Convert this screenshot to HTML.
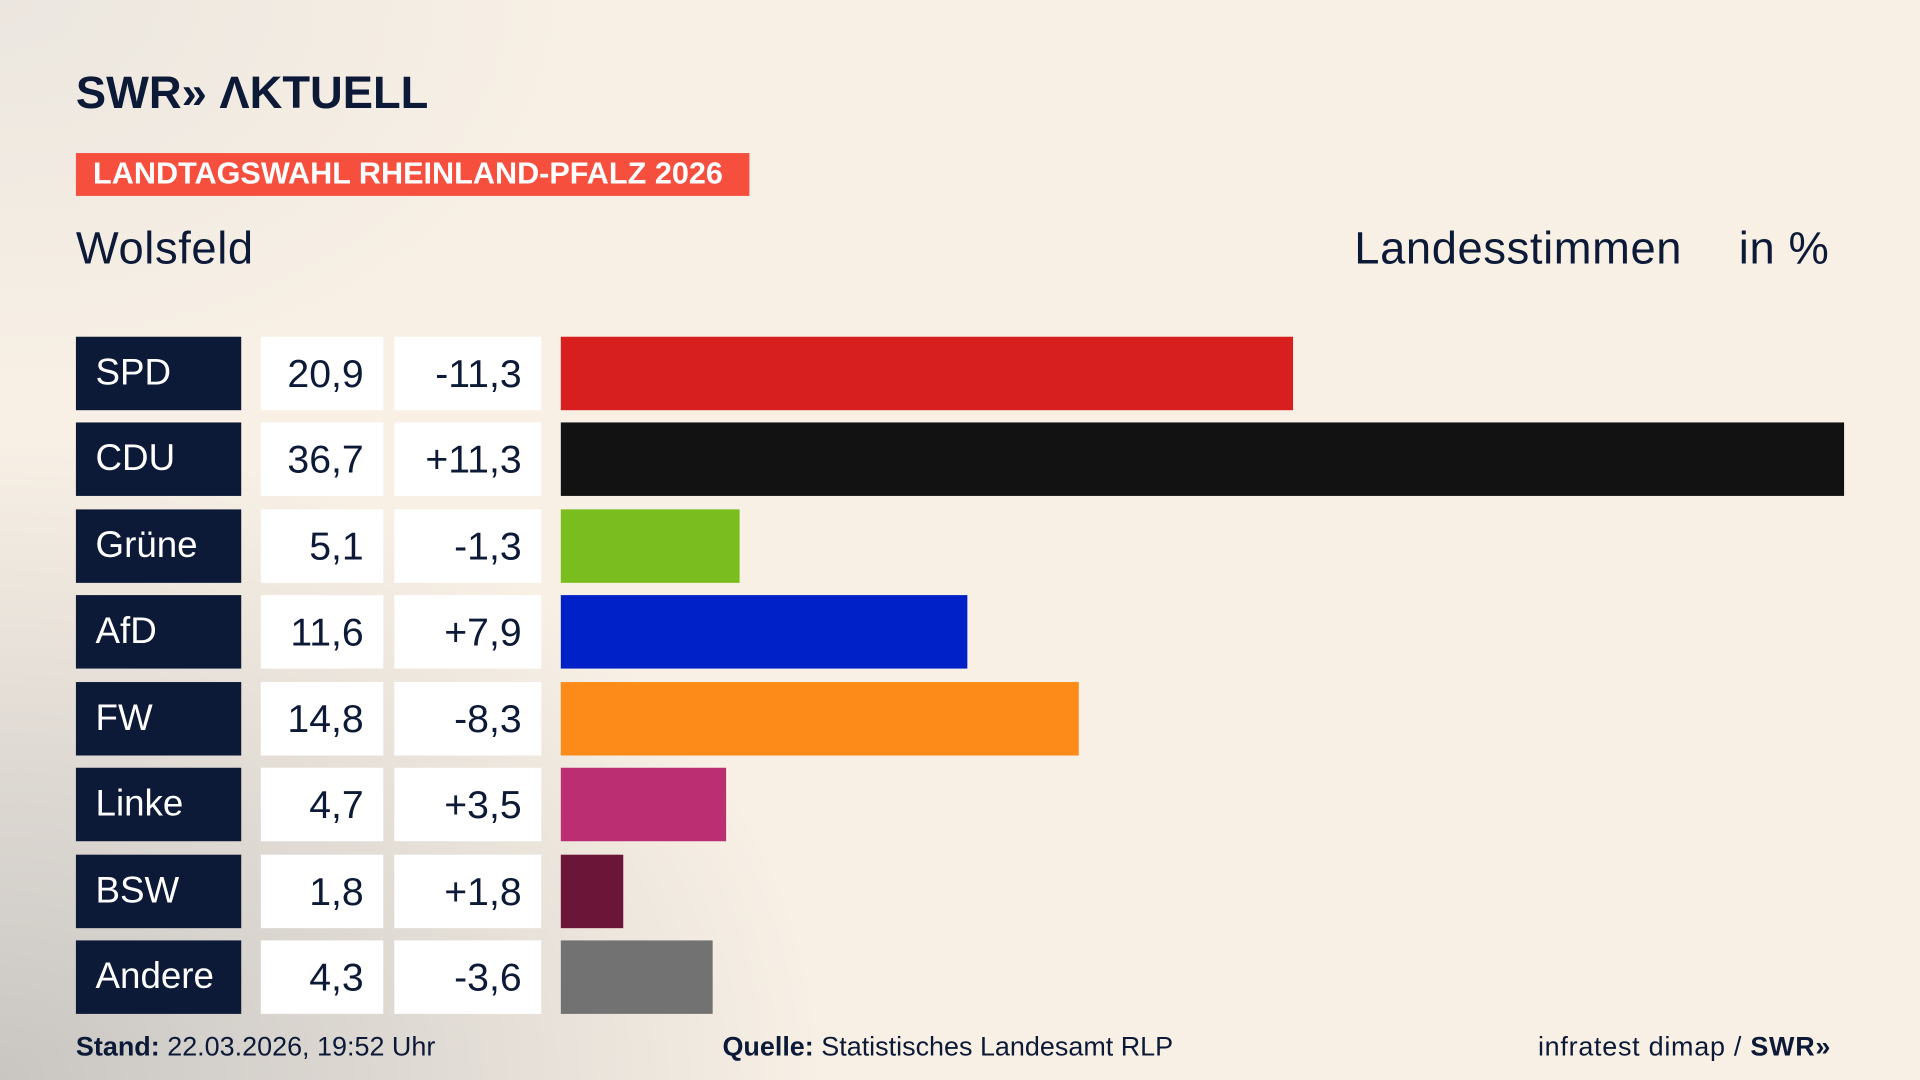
<!DOCTYPE html>
<html><head><meta charset="utf-8"><style>
html,body{margin:0;padding:0;width:1920px;height:1080px;overflow:hidden}
body{background:#f7efe5}
#w{position:absolute;left:0;top:0;width:1568px;height:882px;transform:scale(1.22449);transform-origin:0 0;
background:radial-gradient(ellipse 900px 700px at 0% 100%,#c9c6c2 0%,#ddd8d2 35%,rgba(247,239,229,0) 75%),
radial-gradient(ellipse 600px 400px at 0% 0%,#ebe6df 0%,rgba(247,239,229,0) 80%),#f8f0e5;
font-family:"Liberation Sans",sans-serif;color:#0c1a38}
.a{position:absolute}
.logo{left:62px;top:55px;font-size:37px;font-weight:bold;letter-spacing:0px;white-space:nowrap}
.ban{left:62px;top:125px;width:550px;height:35px;background:#f64f3e;color:#fff;font-weight:bold;font-size:25px;line-height:35px;text-indent:14px;white-space:nowrap}
.t{font-size:37px;top:182px;letter-spacing:.5px}
.lab{left:62px;width:135px;height:60px;background:#0c1a38;color:#fff;font-size:30px;line-height:60px;text-indent:16px}
.v{left:213px;width:100px;height:60px;background:#fff;font-size:32px;line-height:60px;text-align:right;box-sizing:border-box;padding-right:16px}
.d{left:322px;width:120px;height:60px;background:#fff;font-size:32px;line-height:60px;text-align:right;box-sizing:border-box;padding-right:16px}
.b{left:458px;height:60px}
.f{top:842px;font-size:22px;white-space:nowrap}
</style></head><body><div id="w">
<div class="a logo">SWR&#187; &#923;KTUELL</div>
<div class="a ban">LANDTAGSWAHL RHEINLAND-PFALZ 2026</div>
<div class="a t" style="left:62px">Wolsfeld</div>
<div class="a t" style="left:1106px">Landesstimmen</div>
<div class="a t" style="left:1420px">in %</div>

<div class="a lab" style="top:275px">SPD</div><div class="a v" style="top:275px">20,9</div><div class="a d" style="top:275px">-11,3</div><div class="a b" style="top:275px;width:598px;background:#d81f20"></div>
<div class="a lab" style="top:345px">CDU</div><div class="a v" style="top:345px">36,7</div><div class="a d" style="top:345px">+11,3</div><div class="a b" style="top:345px;width:1048px;background:#121212"></div>
<div class="a lab" style="top:416px">Grüne</div><div class="a v" style="top:416px">5,1</div><div class="a d" style="top:416px">-1,3</div><div class="a b" style="top:416px;width:146px;background:#7abd1e"></div>
<div class="a lab" style="top:486px">AfD</div><div class="a v" style="top:486px">11,6</div><div class="a d" style="top:486px">+7,9</div><div class="a b" style="top:486px;width:332px;background:#0020c8"></div>
<div class="a lab" style="top:557px">FW</div><div class="a v" style="top:557px">14,8</div><div class="a d" style="top:557px">-8,3</div><div class="a b" style="top:557px;width:423px;background:#fd8b19"></div>
<div class="a lab" style="top:627px">Linke</div><div class="a v" style="top:627px">4,7</div><div class="a d" style="top:627px">+3,5</div><div class="a b" style="top:627px;width:135px;background:#bb2f72"></div>
<div class="a lab" style="top:698px">BSW</div><div class="a v" style="top:698px">1,8</div><div class="a d" style="top:698px">+1,8</div><div class="a b" style="top:698px;width:51px;background:#6b1538"></div>
<div class="a lab" style="top:768px">Andere</div><div class="a v" style="top:768px">4,3</div><div class="a d" style="top:768px">-3,6</div><div class="a b" style="top:768px;width:124px;background:#727272"></div>

<div class="a f" style="left:62px"><b>Stand:</b> 22.03.2026, 19:52 Uhr</div>
<div class="a f" style="left:590px"><b>Quelle:</b> Statistisches Landesamt RLP</div>
<div class="a f" style="left:1256px;letter-spacing:.6px">infratest dimap / <b>SWR&#187;</b></div>
</div></body></html>
